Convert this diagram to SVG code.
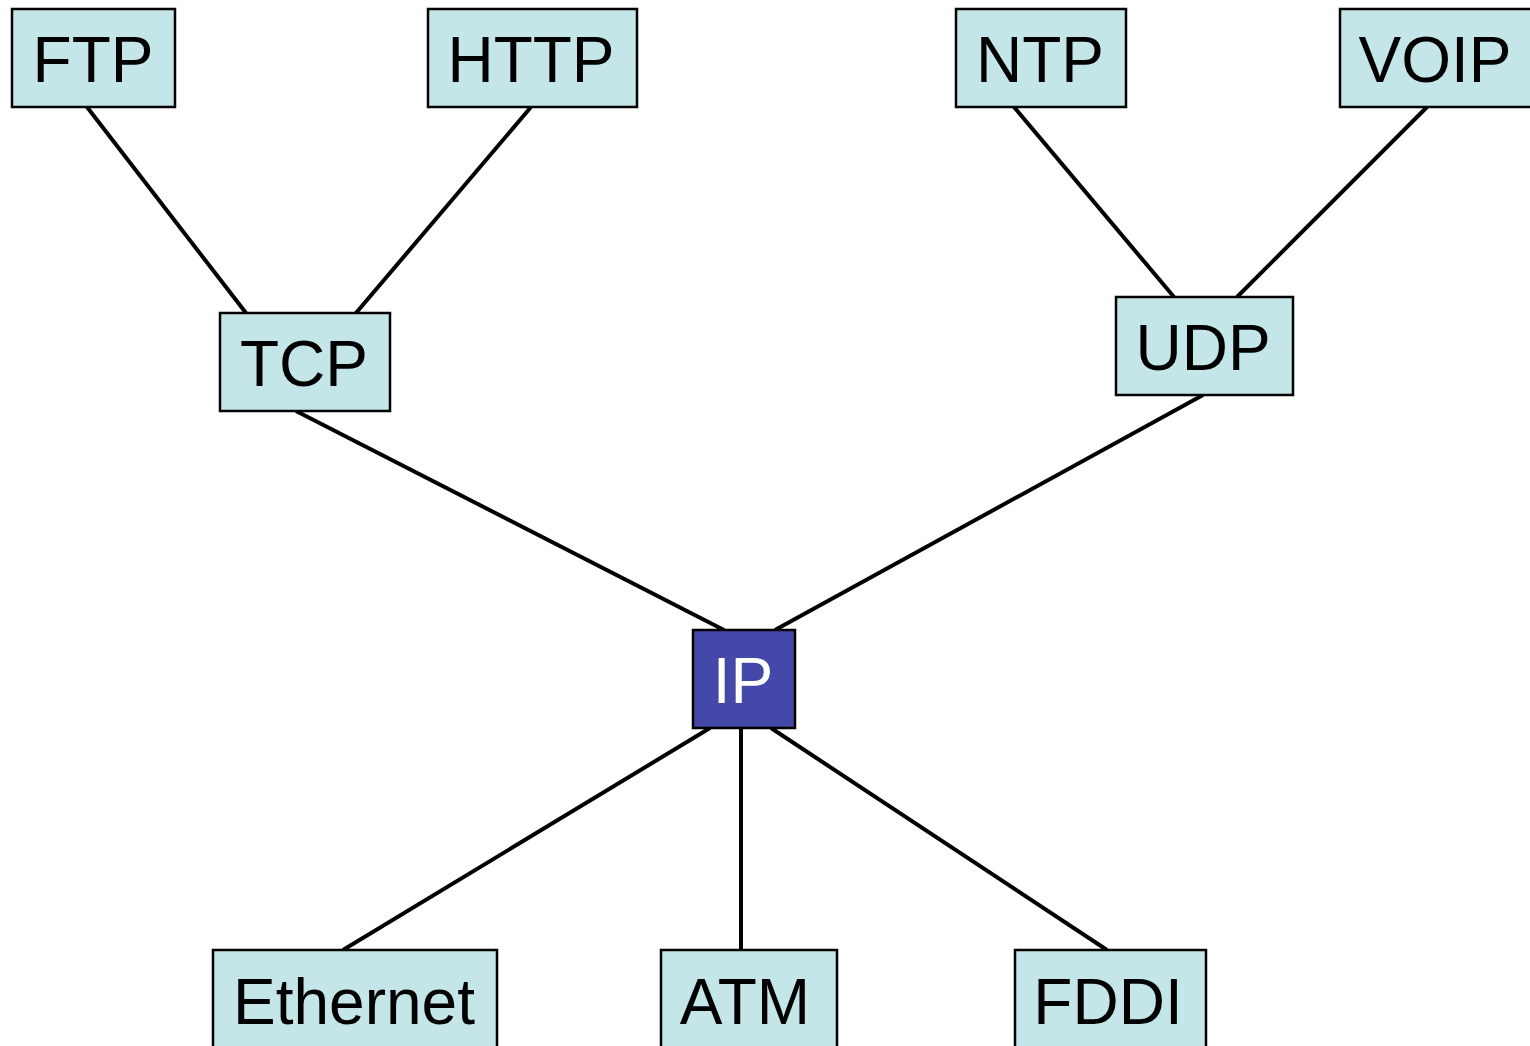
<svg xmlns="http://www.w3.org/2000/svg" width="1530" height="1046" viewBox="0 0 1530 1046">
<style>
.box{fill:#C4E6E8;stroke:#000;stroke-width:2.5}
.ip{fill:#4448A8;stroke:#000;stroke-width:2.5}
.t{font-family:"Liberation Sans",Arial,sans-serif;font-size:64px;text-anchor:middle;fill:#000}
.tw{fill:#fff}
.c line{stroke:#000;stroke-width:4}
</style>
<rect width="1530" height="1046" fill="#fff"/>
<g class="c" id="connectors">
<line x1="87" y1="107" x2="246" y2="313"/>
<line x1="531" y1="107" x2="356" y2="313"/>
<line x1="1014" y1="107" x2="1174" y2="297"/>
<line x1="1427" y1="107" x2="1237" y2="297"/>
<line x1="296" y1="411" x2="724" y2="630"/>
<line x1="1203" y1="395" x2="775" y2="630"/>
<line x1="710" y1="728" x2="343" y2="950"/>
<line x1="741" y1="728" x2="741" y2="950"/>
<line x1="771" y1="728" x2="1107" y2="950"/>
</g>
<g id="ftp"><rect class="box" x="12" y="9" width="163" height="98"/><text class="t" x="93" y="82">FTP</text></g>
<g id="http"><rect class="box" x="428" y="9" width="209" height="98"/><text class="t" x="531" y="82">HTTP</text></g>
<g id="ntp"><rect class="box" x="956" y="9" width="170" height="98"/><text class="t" x="1040" y="82">NTP</text></g>
<g id="voip"><rect class="box" x="1340" y="9" width="200" height="98"/><text class="t" x="1435" y="82">VOIP</text></g>
<g id="tcp"><rect class="box" x="220" y="313" width="170" height="98"/><text class="t" x="304" y="386">TCP</text></g>
<g id="udp"><rect class="box" x="1116" y="297" width="177" height="98"/><text class="t" x="1203" y="370">UDP</text></g>
<g id="ip"><rect class="ip" x="693" y="630" width="102" height="98"/><text class="t tw" x="743" y="703">IP</text></g>
<g id="ethernet"><rect class="box" x="213" y="950" width="284" height="110"/><text class="t" x="354" y="1024">Ethernet</text></g>
<g id="atm"><rect class="box" x="661" y="950" width="176" height="110"/><text class="t" x="745" y="1024">ATM</text></g>
<g id="fddi"><rect class="box" x="1015" y="950" width="191" height="110"/><text class="t" x="1108" y="1024">FDDI</text></g>
</svg>
